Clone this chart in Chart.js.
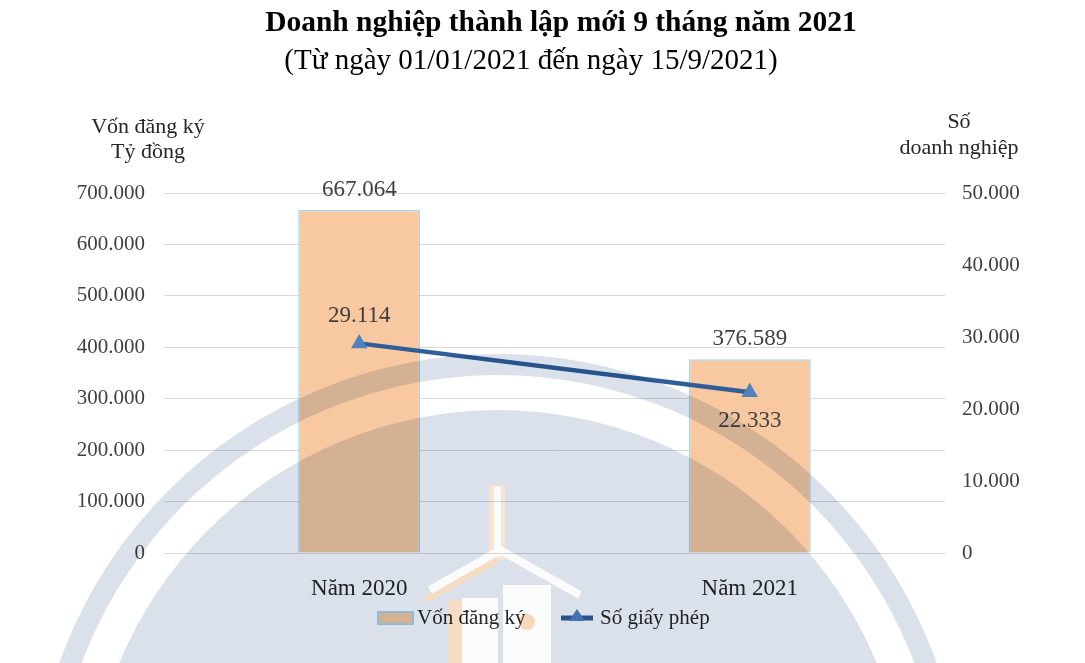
<!DOCTYPE html>
<html><head><meta charset="utf-8">
<script src="https://cdn.jsdelivr.net/npm/chart.js@4.4.1/dist/chart.umd.min.js"></script>
<style>html,body{margin:0;padding:0;background:#fff}#wrap{width:1085px;height:663px;position:relative}</style>
</head><body><div id="wrap"><canvas id="c" width="1085" height="663"></canvas></div>
<script>
const categories = ['Năm 2020', 'Năm 2021'];
const vonDangKy = [667064, 376589];
const soGiayPhep = [29114, 22333];
const seriesNames = ['Vốn đăng ký', 'Số giấy phép'];
const leftTickStep = 100000, leftMax = 700000;
const rightTickStep = 10000, rightMax = 50000;
const titleText = 'Doanh nghiệp thành lập mới 9 tháng năm 2021';
const subtitleText = '(Từ ngày 01/01/2021 đến ngày 15/9/2021)';
const leftAxisTitle = ['Vốn đăng ký', 'Tỷ đồng'];
const rightAxisTitle = ['Số', 'doanh nghiệp'];

const FONT = "'Liberation Serif', 'Times New Roman', serif";
const fmt = n => String(n).replace(/\B(?=(\d{3})+(?!\d))/g, '.');
const BAR_FILL = '#f8c9a0', BAR_BORDER = '#a9d6e6';
const LINE_COLOR = '#2f5e98', MARK_COLOR = '#4f81bd';

function buildWatermark(w, h) {
  const off = document.createElement('canvas');
  off.width = w; off.height = h;
  const g = off.getContext('2d');
  g.fillStyle = '#fff'; g.fillRect(0, 0, w, h);
  const cx = 498, cy = 820;
  g.fillStyle = '#dae1eb';
  g.beginPath();
  g.arc(cx, cy, 466, 0, Math.PI * 2);
  g.arc(cx, cy, 445, 0, Math.PI * 2, true);
  g.fill('evenodd');
  g.beginPath(); g.arc(cx, cy, 410, 0, Math.PI * 2); g.fill();
  // faint house emblem
  g.fillStyle = '#f8e4d3'; g.fillRect(489, 485, 16, 75);
  g.fillStyle = '#fbfbfb'; g.fillRect(494, 487, 7, 70);
  g.strokeStyle = '#f7dcc4'; g.lineWidth = 7; g.lineCap = 'butt';
  g.beginPath(); g.moveTo(425, 600); g.lineTo(497, 560); g.stroke();
  g.strokeStyle = '#fbfbfb'; g.lineWidth = 8;
  g.beginPath(); g.moveTo(430, 590); g.lineTo(500, 550); g.lineTo(580, 595); g.stroke();
  g.fillStyle = '#f7dcc4'; g.fillRect(448, 600, 14, 63);
  g.fillStyle = '#fbfbfb'; g.fillRect(462, 598, 36, 65);
  g.fillStyle = '#fbfbfb'; g.fillRect(503, 585, 48, 78);
  g.fillStyle = '#f7d8bd'; g.beginPath(); g.arc(527, 622, 8, 0, Math.PI * 2); g.fill();
  return off;
}

const decor = {
  id: 'decor',
  beforeDraw(chart) {
    const c = chart.ctx;
    c.save(); c.fillStyle = '#fff'; c.fillRect(0, 0, chart.width, chart.height); c.restore();
  },
  afterDatasetsDraw(chart) {
    const c = chart.ctx;
    c.save();
    c.fillStyle = '#404040';
    c.font = '23px ' + FONT;
    c.textAlign = 'center'; c.textBaseline = 'middle';
    const barMeta = chart.getDatasetMeta(0);
    barMeta.data.forEach((el, i) => {
      c.fillText(fmt(vonDangKy[i]), el.x, el.y - 20);
    });
    const lineMeta = chart.getDatasetMeta(1);
    lineMeta.data.forEach((el, i) => {
      const dy = i === 0 ? -27 : 29;
      c.fillText(fmt(soGiayPhep[i]), el.x, el.y + dy);
    });
    c.restore();
  },
  afterDraw(chart) {
    const c = chart.ctx;
    c.save();
    c.textAlign = 'center'; c.textBaseline = 'middle';
    c.fillStyle = '#000';
    c.font = 'bold 29.5px ' + FONT;
    c.fillText(titleText, 561, 23);
    c.font = '29px ' + FONT;
    c.fillText(subtitleText, 531, 61);
    c.fillStyle = '#262626';
    c.font = '22px ' + FONT;
    c.fillText(leftAxisTitle[0], 148, 127);
    c.fillText(leftAxisTitle[1], 148, 152);
    c.fillText(rightAxisTitle[0], 959, 122);
    c.fillText(rightAxisTitle[1], 959, 148);
    // legend
    c.textAlign = 'left';
    c.font = '21px ' + FONT;
    c.fillStyle = BAR_FILL; c.fillRect(378, 612, 35, 12);
    c.strokeStyle = BAR_BORDER; c.lineWidth = 2; c.strokeRect(378, 612, 35, 12);
    c.fillStyle = '#262626'; c.fillText(seriesNames[0], 417, 618);
    c.strokeStyle = LINE_COLOR; c.lineWidth = 5;
    c.beginPath(); c.moveTo(561, 618); c.lineTo(593, 618); c.stroke();
    c.fillStyle = MARK_COLOR;
    c.beginPath(); c.moveTo(577, 609); c.lineTo(585, 621); c.lineTo(569, 621); c.closePath(); c.fill();
    c.fillStyle = '#262626'; c.fillText(seriesNames[1], 600, 618);
    // watermark (multiply)
    c.globalCompositeOperation = 'multiply';
    c.drawImage(buildWatermark(chart.width, chart.height), 0, 0);
    c.restore();
  }
};

new Chart(document.getElementById('c'), {
  data: {
    labels: categories,
    datasets: [
      {
        type: 'bar', label: seriesNames[0], data: vonDangKy, yAxisID: 'y', order: 1,
        backgroundColor: BAR_FILL, borderColor: BAR_BORDER, borderWidth: 1.5,
        categoryPercentage: 1, barPercentage: 0.3125
      },
      {
        type: 'line', label: seriesNames[1], data: soGiayPhep, yAxisID: 'y1', order: 0,
        borderColor: LINE_COLOR, borderWidth: 4.5, tension: 0,
        pointStyle: 'triangle', pointRadius: 9.5, pointHoverRadius: 9.5,
        pointBackgroundColor: MARK_COLOR, pointBorderColor: MARK_COLOR, pointBorderWidth: 0
      }
    ]
  },
  options: {
    responsive: false, animation: false, devicePixelRatio: 1,
    layout: { padding: { top: 193, bottom: 60, left: 0, right: 0 } },
    plugins: { legend: { display: false }, title: { display: false }, tooltip: { enabled: false } },
    scales: {
      x: {
        grid: { display: false }, border: { display: false },
        ticks: { font: { family: FONT, size: 23 }, color: '#262626', padding: 14 },
        afterFit(s) { s.height = 50; }
      },
      y: {
        position: 'left', min: 0, max: leftMax,
        ticks: { stepSize: leftTickStep, callback: v => fmt(v), font: { family: FONT, size: 21 }, color: '#404040', padding: 19 },
        grid: { color: '#d9d9d9', lineWidth: 1, drawTicks: false },
        border: { display: false },
        afterFit(s) { s.width = 164; }
      },
      y1: {
        position: 'right', min: 0, max: rightMax,
        ticks: { stepSize: rightTickStep, callback: v => fmt(v), font: { family: FONT, size: 21 }, color: '#404040', padding: 17 },
        grid: { display: false, drawOnChartArea: false, drawTicks: false },
        border: { display: false },
        afterFit(s) { s.width = 140; }
      }
    }
  },
  plugins: [decor]
});
</script>
</body></html>
